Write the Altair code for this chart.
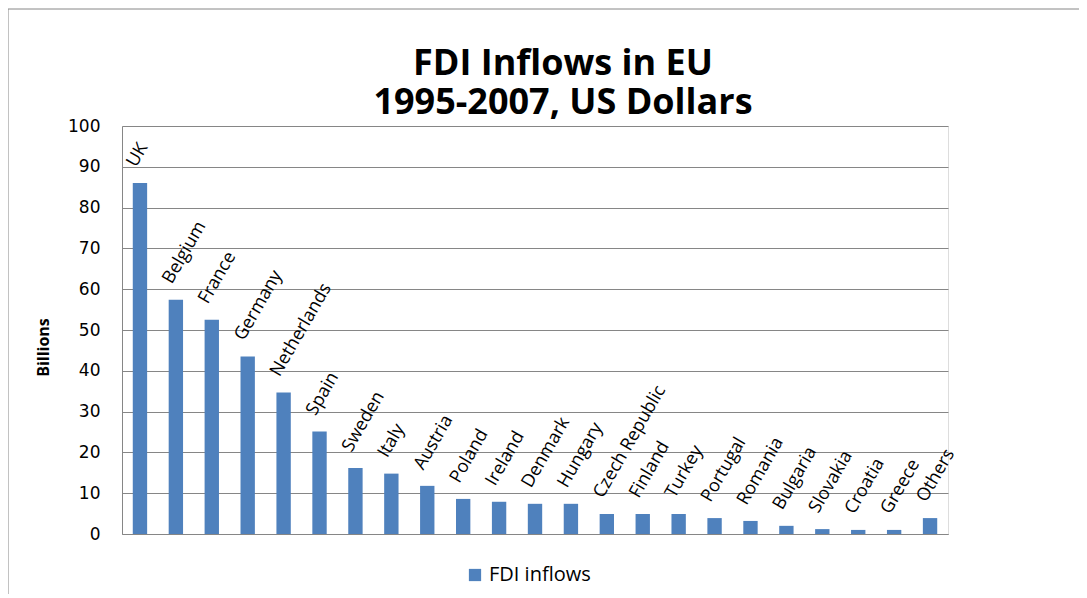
import altair as alt
import pandas as pd

countries = ["UK", "Belgium", "France", "Germany", "Netherlands", "Spain", "Sweden",
             "Italy", "Austria", "Poland", "Ireland", "Denmark", "Hungary",
             "Czech Republic", "Finland", "Turkey", "Portugal", "Romania",
             "Bulgaria", "Slovakia", "Croatia", "Greece", "Others"]
values = [86.0, 57.4, 52.5, 43.5, 34.7, 25.1, 16.2, 14.8, 11.8, 8.6, 7.9, 7.4, 7.4,
          4.9, 4.9, 4.9, 3.9, 3.2, 2.0, 1.2, 1.0, 1.0, 3.9]
series = "FDI inflows"
y_ticks = [0, 10, 20, 30, 40, 50, 60, 70, 80, 90, 100]
title_lines = ["FDI Inflows in EU", "1995-2007, US Dollars"]

df = pd.DataFrame({"country": countries, "value": values, "series": series})
one = pd.DataFrame({"k": [0]})

x_enc = alt.X("country:N", sort=countries,
              scale=alt.Scale(paddingInner=0.6, paddingOuter=0.3),
              axis=alt.Axis(labels=False, ticks=False, title=None,
                            domainColor="#868686", grid=False))
y_enc = alt.Y("value:Q", scale=alt.Scale(domain=[0, 100], nice=False),
              axis=alt.Axis(values=y_ticks, title="Billions", ticks=False,
                            domainColor="#868686", gridColor="#868686",
                            labelFont="DejaVu Sans", labelFontSize=17,
                            labelColor="#000000", labelPadding=22,
                            titleFont="Open Sans", titleFontSize=16,
                            titleFontWeight="bold", titleColor="#000000",
                            titleX=-79, titleY=221, titleAngle=270,
                            titleAlign="center", titleBaseline="middle"))

bars = alt.Chart(df).mark_bar(color="#4F81BD").encode(
    x=x_enc, y=y_enc,
    color=alt.Color("series:N", scale=alt.Scale(range=["#4F81BD"]),
                    legend=alt.Legend(title=None, orient="none", legendX=343,
                                      legendY=439, symbolType="square",
                                      symbolSize=150, labelFont="Open Sans",
                                      labelFontSize=20, labelColor="#000000")))

labels = alt.Chart(df).mark_text(angle=300, align="left", baseline="middle",
                                 dx=11, dy=-16, font="Open Sans", fontSize=18,
                                 color="#000000").encode(
    x=alt.X("country:N", sort=countries), y="value:Q", text="country:N")

title_style = dict(font="Open Sans", fontWeight="bold", fontSize=36,
                   color="#000000", align="center", baseline="alphabetic")
title1 = alt.Chart(one).mark_text(**title_style).encode(
    x=alt.value(441), y=alt.value(-51), text=alt.value(title_lines[0]))
title2 = alt.Chart(one).mark_text(**title_style).encode(
    x=alt.value(441), y=alt.value(-12), text=alt.value(title_lines[1]))

frame_left = alt.Chart(one).mark_rule(color="#868686", strokeWidth=1).encode(
    x=alt.value(-114), y=alt.value(-117), y2=alt.value(600))
frame_top = alt.Chart(one).mark_rule(color="#868686", strokeWidth=1).encode(
    x=alt.value(-114), x2=alt.value(957), y=alt.value(-117))

chart = alt.layer(frame_left, frame_top, bars, labels, title1, title2).properties(
    width=826, height=408,
    autosize=alt.AutoSizeParams(type="none"),
    padding={"left": 114, "top": 118, "right": 131, "bottom": 60},
).configure_view(stroke=None).configure(background="white")

chart.save("out.html", embed_options={"renderer": "svg", "actions": False})
